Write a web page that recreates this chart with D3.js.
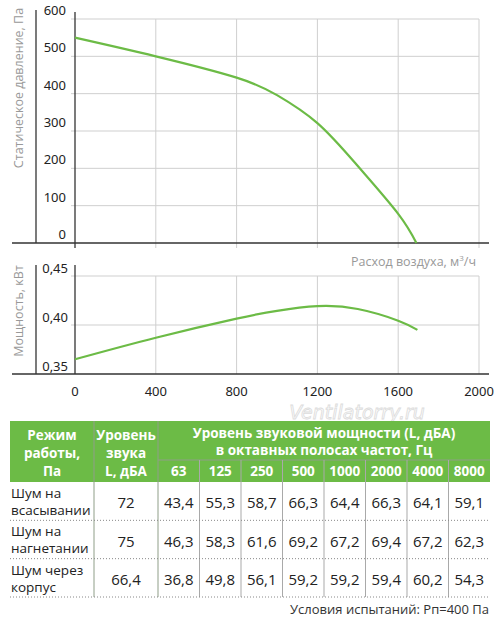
<!DOCTYPE html>
<html>
<head>
<meta charset="utf-8">
<script src="https://cdn.jsdelivr.net/npm/d3@7"></script>
<style>
  body { margin: 0; background: #fff; }
  svg { display: block; }
  .tick-lbl { font-family: "Liberation Sans Narrow", "Noto Sans", sans-serif; font-size: 13px; fill: #222; }
  .ttl { font-family: "Open Sans", sans-serif; font-size: 12.5px; fill: #999; }
  .tbl { font-family: "Open Sans", sans-serif; }
</style>
</head>
<body>
<div id="chart"></div>
<script>
// pressure curve
var flowP = [0, 400, 800, 1000, 1200, 1400, 1600, 1690];
var pressure = [550, 500, 443, 396, 321, 206, 78, 0];
// power curve
var flowW = [0, 400, 800, 1000, 1200, 1400, 1600, 1695];
var power = [0.365, 0.387, 0.4065, 0.4145, 0.4192, 0.4163, 0.4044, 0.395];

var xTicks = [0, 400, 800, 1200, 1600, 2000];
var pTicks = [0, 100, 200, 300, 400, 500, 600];
var wTicks = [0.35, 0.40, 0.45];

// table
var freqs = ["63", "125", "250", "500", "1000", "2000", "4000", "8000"];
var modes = [["Шум на", "всасывании"], ["Шум на", "нагнетании"], ["Шум через", "корпус"]];
var totalLevel = ["72", "75", "66,4"];
var octave = [
    ["43,4", "55,3", "58,7", "66,3", "64,4", "66,3", "64,1", "59,1"],
    ["46,3", "58,3", "61,6", "69,2", "67,2", "69,4", "67,2", "62,3"],
    ["36,8", "49,8", "56,1", "59,2", "59,2", "59,4", "60,2", "54,3"]
];

var green = "#6cbb46";
var svg = d3.select("#chart").append("svg")
    .attr("width", 500)
    .attr("height", 626);

var x = d3.scaleLinear().domain([0, 2000]).range([75, 479]);
var yP = d3.scaleLinear().domain([0, 600]).range([243, 19]);
var yW = d3.scaleLinear().domain([0.35, 0.45]).range([374, 276]);

var grid = "#cfcfcf";

// ---- top chart ----
var gTop = svg.append("g");
gTop.selectAll(".hg").data(pTicks.filter(function(d){return d > 0;}))
    .enter().append("line")
    .attr("x1", 71).attr("x2", x(2000))
    .attr("y1", function(d){return yP(d);}).attr("y2", function(d){return yP(d);})
    .attr("stroke", grid).attr("stroke-width", 1);
gTop.selectAll(".vg").data(xTicks.filter(function(d){return d > 0;}))
    .enter().append("line")
    .attr("x1", function(d){return x(d);}).attr("x2", function(d){return x(d);})
    .attr("y1", yP(600)).attr("y2", yP(0) + 5)
    .attr("stroke", grid).attr("stroke-width", 1);
gTop.selectAll(".pl").data(pTicks)
    .enter().append("text")
    .attr("class", "tick-lbl")
    .attr("x", 66).attr("y", function(d){return yP(d) - 4;})
    .attr("text-anchor", "end")
    .text(function(d){return d;});
gTop.append("line").attr("x1", 12).attr("x2", 489).attr("y1", yP(0)).attr("y2", yP(0))
    .attr("stroke", "#333").attr("stroke-width", 1.3);
gTop.append("line").attr("x1", x(0)).attr("x2", x(0)).attr("y1", 12).attr("y2", yP(0) + 5)
    .attr("stroke", "#333").attr("stroke-width", 1.3);
gTop.append("line").attr("x1", 36).attr("x2", 36).attr("y1", 10).attr("y2", yP(0))
    .attr("stroke", "#333").attr("stroke-width", 1.3);

var lineP = d3.line()
    .x(function(d){return x(d[0]);})
    .y(function(d){return yP(d[1]);})
    .curve(d3.curveNatural);
gTop.append("path")
    .datum(d3.zip(flowP, pressure))
    .attr("d", lineP)
    .attr("fill", "none").attr("stroke", green).attr("stroke-width", 2.2);

gTop.append("text").attr("class", "ttl")
    .attr("transform", "translate(23,88) rotate(-90)")
    .attr("text-anchor", "middle")
    .text("Статическое давление, Па");

var xl = svg.append("text").attr("class", "ttl")
    .attr("x", 476).attr("y", 266).attr("text-anchor", "end")
    .attr("fill", "#888");
xl.append("tspan").text("Расход воздуха, м");
xl.append("tspan").attr("dy", -5).attr("font-size", "8px").text("3");
xl.append("tspan").attr("dy", 5).text("/ч");

// ---- bottom chart ----
var gBot = svg.append("g");
gBot.selectAll(".hg").data(wTicks.filter(function(d){return d > 0.35;}))
    .enter().append("line")
    .attr("x1", 71).attr("x2", x(2000))
    .attr("y1", function(d){return yW(d);}).attr("y2", function(d){return yW(d);})
    .attr("stroke", grid).attr("stroke-width", 1);
gBot.selectAll(".vg").data(xTicks.filter(function(d){return d > 0;}))
    .enter().append("line")
    .attr("x1", function(d){return x(d);}).attr("x2", function(d){return x(d);})
    .attr("y1", yW(0.45)).attr("y2", yW(0.35))
    .attr("stroke", grid).attr("stroke-width", 1);
gBot.selectAll(".wl").data(wTicks)
    .enter().append("text")
    .attr("class", "tick-lbl")
    .attr("x", 68).attr("y", function(d){return yW(d) - 3;})
    .attr("text-anchor", "end")
    .text(function(d){return d3.format(".2f")(d).replace(".", ",");});
gBot.selectAll(".xl").data(xTicks)
    .enter().append("text")
    .attr("class", "tick-lbl")
    .attr("x", function(d){return x(d);}).attr("y", 396)
    .attr("text-anchor", "middle")
    .text(function(d){return d;});
gBot.append("line").attr("x1", 12).attr("x2", 489).attr("y1", yW(0.35)).attr("y2", yW(0.35))
    .attr("stroke", "#333").attr("stroke-width", 1.3);
gBot.append("line").attr("x1", x(0)).attr("x2", x(0)).attr("y1", 265).attr("y2", yW(0.35))
    .attr("stroke", "#333").attr("stroke-width", 1.3);
gBot.append("line").attr("x1", 36).attr("x2", 36).attr("y1", 265).attr("y2", yW(0.35))
    .attr("stroke", "#333").attr("stroke-width", 1.3);

var lineW = d3.line()
    .x(function(d){return x(d[0]);})
    .y(function(d){return yW(d[1]);})
    .curve(d3.curveNatural);
gBot.append("path")
    .datum(d3.zip(flowW, power))
    .attr("d", lineW)
    .attr("fill", "none").attr("stroke", green).attr("stroke-width", 2.2);

gBot.append("text").attr("class", "ttl")
    .attr("transform", "translate(23,311) rotate(-90)")
    .attr("text-anchor", "middle")
    .text("Мощность, кВт");

// watermark
svg.append("text")
    .attr("x", 357).attr("y", 419)
    .attr("text-anchor", "middle")
    .attr("font-family", "DejaVu Sans, sans-serif")
    .attr("font-style", "italic")
    .attr("font-size", "19px")
    .attr("fill", "#fbfbfb")
    .attr("stroke", "#dcdcdc").attr("stroke-width", 0.8)
    .text("Ventilatorry.ru");

// ---- table ----
var tb = svg.append("g").attr("class", "tbl");
var fx = d3.scaleBand().domain(freqs).range([158, 490]);
var hTop = 421, hMid = 460, hBot = 482;
var ry = d3.scaleBand().domain(d3.range(modes.length)).range([hBot, 597]);
var sep = "#8f9e88";

tb.append("rect").attr("x", 10).attr("y", hTop).attr("width", 480).attr("height", hBot - hTop)
    .attr("fill", green);
[94, 158].forEach(function(v){
    tb.append("line").attr("x1", v).attr("x2", v).attr("y1", hTop).attr("y2", 597)
        .attr("stroke", sep).attr("stroke-width", 1);
});
tb.append("line").attr("x1", 158).attr("x2", 490).attr("y1", hMid).attr("y2", hMid)
    .attr("stroke", sep).attr("stroke-width", 1);
tb.selectAll(".fsep").data(freqs.slice(1))
    .enter().append("line")
    .attr("x1", function(d){return fx(d);}).attr("x2", function(d){return fx(d);})
    .attr("y1", hMid).attr("y2", 597)
    .attr("stroke", "#a9a9a9").attr("stroke-width", 1);

function hText(cx, cy, lines, step) {
    lines.forEach(function(t, i){
        tb.append("text")
            .attr("x", cx).attr("y", cy + i * step)
            .attr("text-anchor", "middle").attr("dominant-baseline", "central")
            .attr("fill", "#fff").attr("font-weight", "bold").attr("font-size", "13.5px")
            .text(t);
    });
}
hText(52, 435, ["Режим", "работы,", "Па"], 18);
hText(126, 435, ["Уровень", "звука", "L, дБА"], 18);
hText(324, 433, ["Уровень звуковой мощности (L, дБА)", "в октавных полосах частот, Гц"], 17);
tb.selectAll(".fh").data(freqs)
    .enter().append("text")
    .attr("x", function(d){return fx(d) + fx.bandwidth() / 2;}).attr("y", 471)
    .attr("text-anchor", "middle").attr("dominant-baseline", "central")
    .attr("fill", "#fff").attr("font-weight", "bold").attr("font-size", "13.5px")
    .text(function(d){return d;});

// rows
modes.forEach(function(m, i){
    var y0 = ry(i), h = ry.bandwidth();
    m.forEach(function(t, j){
        tb.append("text")
            .attr("x", 11).attr("y", y0 + 11 + j * 17)
            .attr("dominant-baseline", "central")
            .attr("fill", "#222").attr("font-size", "13.5px")
            .text(t);
    });
    tb.append("text")
        .attr("x", 126).attr("y", y0 + h / 2 + 1)
        .attr("text-anchor", "middle").attr("dominant-baseline", "central")
        .attr("fill", "#222").attr("font-size", "15px")
        .text(totalLevel[i]);
    tb.selectAll(".v" + i).data(octave[i])
        .enter().append("text")
        .attr("x", function(d, k){return fx(freqs[k]) + fx.bandwidth() / 2;})
        .attr("y", y0 + h / 2 + 1)
        .attr("text-anchor", "middle").attr("dominant-baseline", "central")
        .attr("fill", "#222").attr("font-size", "15px")
        .text(function(d){return d;});
    tb.append("line").attr("x1", 10).attr("x2", 490)
        .attr("y1", y0 + h).attr("y2", y0 + h)
        .attr("stroke", "#888").attr("stroke-width", 1)
        .attr("stroke-dasharray", "1,2");
});

tb.append("text")
    .attr("x", 489).attr("y", 609)
    .attr("text-anchor", "end").attr("dominant-baseline", "central")
    .attr("fill", "#333").attr("font-size", "13px")
    .text("Условия испытаний: Рп=400 Па");
</script>
</body>
</html>
